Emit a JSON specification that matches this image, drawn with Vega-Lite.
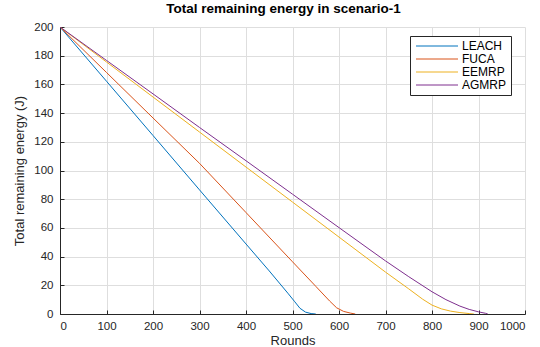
{
  "$schema": "https://vega.github.io/schema/vega-lite/v6.json",
  "autosize": "none",
  "width": 465,
  "height": 287,
  "padding": {"left": 60, "top": 27, "right": 15, "bottom": 33},
  "background": "white",
  "title": {"text": "Total remaining energy in scenario-1", "font": "Liberation Sans", "fontSize": 13.5, "fontWeight": "bold", "color": "#000000", "offset": 6, "dx": -9},
  "data": {"values": [
    {"r": 0, "e": 200, "s": "LEACH"},
    {"r": 100, "e": 162.2, "s": "LEACH"},
    {"r": 200, "e": 124.4, "s": "LEACH"},
    {"r": 300, "e": 86.5, "s": "LEACH"},
    {"r": 400, "e": 48.8, "s": "LEACH"},
    {"r": 450, "e": 30, "s": "LEACH"},
    {"r": 490, "e": 14.5, "s": "LEACH"},
    {"r": 505, "e": 8.5, "s": "LEACH"},
    {"r": 516, "e": 4, "s": "LEACH"},
    {"r": 528, "e": 1.3, "s": "LEACH"},
    {"r": 540, "e": 0.3, "s": "LEACH"},
    {"r": 550, "e": 0, "s": "LEACH"},
    {"r": 0, "e": 200, "s": "FUCA"},
    {"r": 100, "e": 168.3, "s": "FUCA"},
    {"r": 200, "e": 136.6, "s": "FUCA"},
    {"r": 300, "e": 105, "s": "FUCA"},
    {"r": 400, "e": 70.7, "s": "FUCA"},
    {"r": 500, "e": 36.4, "s": "FUCA"},
    {"r": 550, "e": 19.3, "s": "FUCA"},
    {"r": 580, "e": 9, "s": "FUCA"},
    {"r": 595, "e": 4.3, "s": "FUCA"},
    {"r": 610, "e": 1.8, "s": "FUCA"},
    {"r": 625, "e": 0.6, "s": "FUCA"},
    {"r": 635, "e": 0, "s": "FUCA"},
    {"r": 0, "e": 200, "s": "EEMRP"},
    {"r": 100, "e": 175.6, "s": "EEMRP"},
    {"r": 200, "e": 151.2, "s": "EEMRP"},
    {"r": 300, "e": 126.8, "s": "EEMRP"},
    {"r": 400, "e": 102.4, "s": "EEMRP"},
    {"r": 500, "e": 78, "s": "EEMRP"},
    {"r": 600, "e": 53.6, "s": "EEMRP"},
    {"r": 700, "e": 29.2, "s": "EEMRP"},
    {"r": 750, "e": 17.5, "s": "EEMRP"},
    {"r": 780, "e": 10.3, "s": "EEMRP"},
    {"r": 800, "e": 6.2, "s": "EEMRP"},
    {"r": 820, "e": 3.6, "s": "EEMRP"},
    {"r": 840, "e": 2, "s": "EEMRP"},
    {"r": 860, "e": 1, "s": "EEMRP"},
    {"r": 880, "e": 0.3, "s": "EEMRP"},
    {"r": 890, "e": 0, "s": "EEMRP"},
    {"r": 0, "e": 200, "s": "AGMRP"},
    {"r": 100, "e": 176.7, "s": "AGMRP"},
    {"r": 200, "e": 153.4, "s": "AGMRP"},
    {"r": 300, "e": 130, "s": "AGMRP"},
    {"r": 400, "e": 106.8, "s": "AGMRP"},
    {"r": 500, "e": 83.5, "s": "AGMRP"},
    {"r": 600, "e": 60.2, "s": "AGMRP"},
    {"r": 700, "e": 37, "s": "AGMRP"},
    {"r": 750, "e": 26, "s": "AGMRP"},
    {"r": 800, "e": 15.5, "s": "AGMRP"},
    {"r": 830, "e": 10, "s": "AGMRP"},
    {"r": 860, "e": 5.5, "s": "AGMRP"},
    {"r": 880, "e": 3.2, "s": "AGMRP"},
    {"r": 900, "e": 1.5, "s": "AGMRP"},
    {"r": 915, "e": 0.5, "s": "AGMRP"},
    {"r": 920, "e": 0, "s": "AGMRP"}
  ]},
  "mark": {"type": "line", "strokeWidth": 1, "clip": true},
  "encoding": {
    "x": {"field": "r", "type": "quantitative", "title": "Rounds",
      "scale": {"domain": [0, 1000], "nice": false, "zero": false},
      "axis": {"values": [0,100,200,300,400,500,600,700,800,900,1000], "format": "d"}},
    "y": {"field": "e", "type": "quantitative", "title": "Total remaining energy (J)",
      "scale": {"domain": [0, 200], "nice": false},
      "axis": {"values": [0,20,40,60,80,100,120,140,160,180,200], "format": "d"}},
    "color": {"field": "s", "type": "nominal", "sort": ["LEACH", "FUCA", "EEMRP", "AGMRP"],
      "scale": {"domain": ["LEACH", "FUCA", "EEMRP", "AGMRP"], "range": ["#0072BD", "#D95319", "#EDB120", "#7E2F8E"]},
      "legend": {"title": null, "orient": "none", "legendX": 350, "legendY": 9,
        "symbolType": "M-4.2,0H4.2", "symbolSize": 100, "symbolStrokeWidth": 1,
        "symbolOffset": 17, "labelOffset": 19,
        "labelFont": "Liberation Sans", "labelFontSize": 12, "labelColor": "#000000",
        "strokeColor": "#262626", "fillColor": "white", "padding": 4, "rowPadding": 1, "cornerRadius": 0}},
    "order": {"field": "r", "type": "quantitative"}
  },
  "config": {
    "view": {"stroke": null},
    "axis": {
      "labelFont": "Liberation Sans", "labelFontSize": 11.5, "labelColor": "#262626",
      "titleFont": "Liberation Sans", "titleFontSize": 13, "titleFontWeight": "normal", "titleColor": "#262626",
      "domainColor": "#262626", "domainWidth": 1, "tickColor": "#262626", "tickSize": -4, "tickWidth": 1,
      "gridColor": "#dedede", "gridWidth": 1, "gridOpacity": 1
    },
    "axisX": {"titlePadding": 3, "labelPadding": 10},
    "axisY": {"titlePadding": 7, "labelPadding": 11}
  }
}
